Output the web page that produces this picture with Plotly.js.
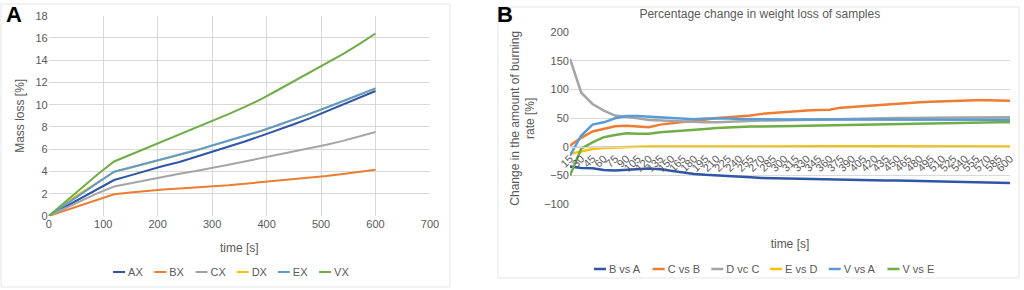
<!DOCTYPE html>
<html>
<head>
<meta charset="utf-8">
<script src="https://cdn.plot.ly/plotly-3.0.1.min.js"></script>
<style>html,body{margin:0;padding:0;background:#fff;}#chart{width:1024px;height:290px;}</style>
</head>
<body>
<div id="chart"></div>
<script>
// ---------- Panel A data ----------
const timeA = [0,30,60,90,120,150,180,210,240,270,300,330,360,390,420,450,480,510,540,570,600];
const AX = [0,0.8,1.6,2.45,3.23,3.65,4.1,4.5,4.85,5.3,5.78,6.2,6.7,7.2,7.7,8.25,8.8,9.4,10.0,10.6,11.23];
const BX = [0,0.5,1.0,1.48,1.95,2.1,2.25,2.38,2.48,2.57,2.65,2.77,2.9,3.03,3.17,3.3,3.45,3.6,3.78,3.96,4.16];
const CX = [0,0.68,1.35,2.05,2.65,2.95,3.25,3.55,3.8,4.05,4.3,4.6,4.9,5.2,5.45,5.75,6.05,6.4,6.75,7.15,7.55];
const DX = [0,1.12,2.1,3.05,3.97,4.34,4.71,5.09,5.49,5.89,6.32,6.74,7.19,7.64,8.14,8.64,9.19,9.74,10.29,10.89,11.46];
const EX = [0,1.0,2.0,3.0,3.98,4.35,4.72,5.1,5.5,5.9,6.33,6.75,7.2,7.65,8.15,8.65,9.2,9.75,10.3,10.9,11.47];
const VX = [0,1.25,2.5,3.75,4.9,5.5,6.1,6.7,7.3,7.95,8.55,9.15,9.8,10.5,11.3,12.1,12.9,13.7,14.55,15.45,16.4];
const namesA = ['AX','BX','CX','DX','EX','VX'];

// ---------- Panel B data ----------
const catsB = ['15','30','45','60','75','90','105','120','135','150','165','180','195','210','225','240','255','270','285','300',
               '315','330','345','360','375','390','405','420','435','450','465','480','495','510','525','540','555','570','585','600'];
const BvsA = [-34,-36.5,-37,-40,-41,-40,-39,-37.6,-39,-42,-44.6,-47,-48.6,-50,-51,-52,-53,-54,-54.5,-55,
              -55.5,-56,-56.3,-56.6,-56.8,-57.2,-57.6,-58,-58.3,-58.5,-59,-59.5,-60,-60.4,-61,-61.4,-61.8,-62.1,-62.4,-62.7];
const CvsB = [2.4,16,27,31.5,36,37,36,34.4,39,42,43.7,44.8,47.7,50.7,51.8,53,54.7,57.7,59.4,60,
              62,63.5,64.6,64.8,68.6,70,71.5,73,74.2,75.5,76.8,77.8,78.7,79.6,80.2,80.8,81.4,81.4,81.2,80.8];
const DvcC = [154,94.6,75,63.4,54.7,53,50,47,46,45,44,43,43,43,44,45,46,46,46,46.5,
              47,47.5,48,48.5,49,49,49.5,50,50,50.5,50.5,51,51,51,51.5,51.5,51.5,51.7,51.7,51.7];
const EvsD = [-12,-8,-3.5,-1.6,-0.5,0,0.5,0.7,0.8,1,1,1,1.1,1.1,1.1,1.2,1.2,1.2,1.2,1.2,
              1.2,1.2,1.1,1.1,1.1,1.1,1.0,1.0,1.0,1.0,1.0,1.0,0.9,0.9,0.9,0.9,0.9,0.8,0.8,0.8];
const VvsA = [-15,20,39,43,50,54,54,53,52,51,49.6,48.5,49.6,50,49.5,49,48.5,48.5,48,48,
              48,48,48,48,48.5,48.5,48.5,48.5,48.5,48.5,48.5,48,48,48,48,47.8,47.8,47.7,47.7,47.7];
const VvsE = [-50,-3,8,17,21,24,23,23,25.6,27.4,28.6,30,31.5,33,34.3,34.8,35.5,35.5,36,36.5,
              36.8,37.2,37.6,38,38.5,38.8,39.1,39.4,39.7,40,40.3,40.6,41,41.5,42,42.5,42.7,42.9,43,43];
const namesB = ['B vs A','C vs B','D vc C','E vs D','V vs A','V vs E'];

const colors = ['#2F55A8','#ED7D31','#A5A5A5','#FFC000','#5B9BD5','#70AD47'];
const FONT = 'Liberation Sans, Arial, sans-serif';
const TXT = '#595959';
const GRID = '#D9D9D9';

const seriesA = [AX,BX,CX,DX,EX,VX];
const seriesB = [BvsA,CvsB,DvcC,EvsD,VvsA,VvsE];

const traces = [];
seriesA.forEach((s,i)=>traces.push({
  x: timeA, y: s, name: namesA[i], type:'scatter', mode:'lines',
  line:{color:colors[i], width:2}, xaxis:'x', yaxis:'y', legend:'legend'
}));
seriesB.forEach((s,i)=>traces.push({
  x: catsB, y: s, name: namesB[i], type:'scatter', mode:'lines',
  line:{color:colors[i], width:2.5}, xaxis:'x2', yaxis:'y2', legend:'legend2'
}));

const yDomB = [0.2955, 0.8886];
const yRangeB = [-100, 200];
const zeroPos = yDomB[0] + (0 - yRangeB[0])/(yRangeB[1]-yRangeB[0])*(yDomB[1]-yDomB[0]);

const layout = {
  width:1024, height:290,
  margin:{l:0,r:0,t:0,b:0},
  paper_bgcolor:'#fff', plot_bgcolor:'rgba(0,0,0,0)',
  font:{family:FONT, size:11, color:TXT},
  showlegend:true,
  title:{text:'Percentage change in weight loss of samples', x:0.742, xanchor:'center', y:0.952, yanchor:'middle',
         xref:'paper', yref:'paper', font:{family:FONT, size:12, color:TXT}},
  xaxis:{domain:[0.0476,0.4199], range:[0,700], dtick:100, tick0:0, showgrid:true, gridcolor:GRID,
         zeroline:false, showline:false, ticks:'', tickfont:{size:11,color:TXT},
         title:{text:'time [s]', font:{size:12,color:TXT}, standoff:14}, fixedrange:true},
  yaxis:{domain:[0.2552,0.9459], range:[0,18], dtick:2, tick0:0, showgrid:true, gridcolor:GRID,
         zeroline:false, showline:false, ticks:'', tickfont:{size:11,color:TXT},
         title:{text:'Mass loss [%]', font:{size:12,color:TXT}, standoff:8}, fixedrange:true},
  xaxis2:{domain:[0.5566,0.9863], type:'category', range:[0,catsB.length-1], anchor:'free', position:zeroPos,
          tickmode:'linear', tick0:0, dtick:1, tickangle:-45, showgrid:false, zeroline:false,
          showline:true, linecolor:GRID, ticks:'', tickfont:{size:11,color:TXT},
          title:{text:'time [s]', font:{size:12,color:TXT}, standoff:66}, fixedrange:true},
  yaxis2:{domain:yDomB, range:yRangeB, dtick:50, tick0:0, anchor:'x2', showgrid:true, gridcolor:GRID,
          zeroline:false, showline:false, ticks:'', tickfont:{size:11,color:TXT},
          title:{text:'Change in the amount of burning<br>rate [%]', font:{size:12,color:TXT}, standoff:6}, fixedrange:true},
  legend:{orientation:'h', x:0.2403, xanchor:'center', y:0.062, yanchor:'middle', font:{size:11,color:TXT},
          itemwidth:30, entrywidth:1, bgcolor:'rgba(0,0,0,0)'},
  legend2:{orientation:'h', x:0.748, xanchor:'center', y:0.072, yanchor:'middle', font:{size:11,color:TXT},
          itemwidth:30, entrywidth:14, bgcolor:'rgba(0,0,0,0)'},
  shapes:[
    {type:'rect', xref:'paper', yref:'paper', x0:0.001, x1:450/1024, y0:(290-287)/290, y1:(290-4)/290,
     line:{color:'#E6E6E6', width:1}, fillcolor:'rgba(0,0,0,0)', layer:'below'},
    {type:'rect', xref:'paper', yref:'paper', x0:498/1024, x1:1019/1024, y0:(290-278)/290, y1:(290-7)/290,
     line:{color:'#E6E6E6', width:1}, fillcolor:'rgba(0,0,0,0)', layer:'below'}
  ],
  annotations:[
    {text:'<b>A</b>', xref:'paper', yref:'paper', x:14/1024, y:(290-15)/290, xanchor:'center', yanchor:'middle',
     showarrow:false, font:{family:FONT, size:22, color:'#000'}},
    {text:'<b>B</b>', xref:'paper', yref:'paper', x:505/1024, y:(290-15)/290, xanchor:'center', yanchor:'middle',
     showarrow:false, font:{family:FONT, size:22, color:'#000'}}
  ]
};

// Excel-style compact legend keys: short line, text right after it, tighter spacing
const legendSpacing = {legend:41.2, legend2:58.7};

function compactLegends(gd){
  Object.keys(legendSpacing).forEach(function(cls){
    const items = gd.querySelectorAll('g.' + cls + ' g.traces');
    let x0 = null;
    items.forEach(function(tr, i){
      tr.querySelectorAll('.legendlines path').forEach(function(p){ p.setAttribute('d','M5,0h12'); });
      tr.querySelectorAll('text').forEach(function(t){
        t.setAttribute('x', 20);
        t.querySelectorAll('tspan[x]').forEach(function(s){ s.setAttribute('x', 20); });
      });
      const m = /translate\(\s*([-\d.e]+)[ ,]+([-\d.e]+)\s*\)/.exec(tr.getAttribute('transform') || '');
      if(m){
        const tx = parseFloat(m[1]), ty = parseFloat(m[2]);
        if(x0 === null) x0 = tx;
        tr.setAttribute('transform', 'translate(' + (x0 + i*legendSpacing[cls]) + ',' + ty + ')');
      }
    });
  });
}

Plotly.newPlot('chart', traces, layout, {displayModeBar:false, staticPlot:true}).then(function(gd){
  compactLegends(gd);
  gd.on('plotly_afterplot', function(){ compactLegends(gd); });
  setTimeout(function(){ compactLegends(gd); }, 30);
  setTimeout(function(){ compactLegends(gd); }, 200);
});
</script>
</body>
</html>
